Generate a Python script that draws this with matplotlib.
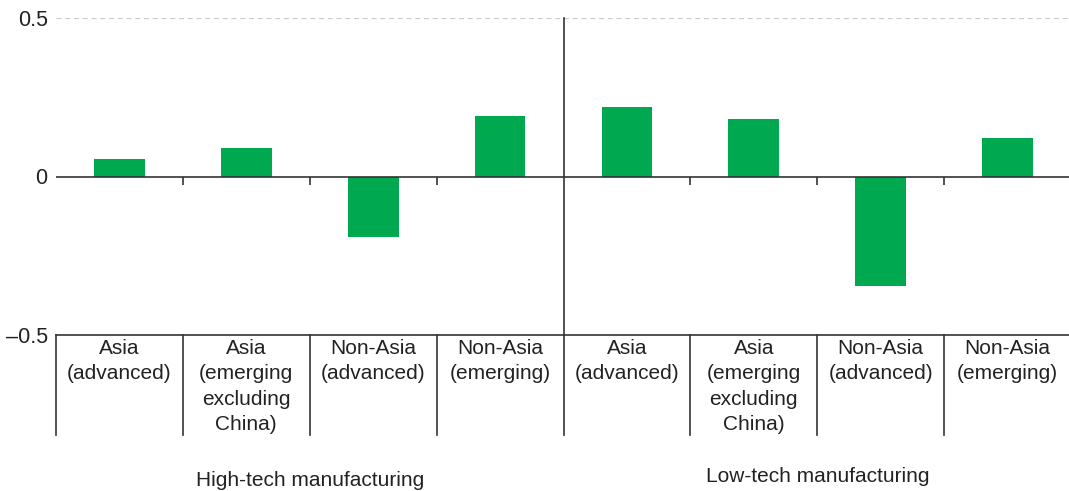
import matplotlib.pyplot as plt
import numpy as np

plt.rcParams['font.family'] = ['Liberation Sans', 'DejaVu Sans']

# values
categories = ['Asia\n(advanced)', 'Asia\n(emerging\nexcluding\nChina)', 'Non-Asia\n(advanced)', 'Non-Asia\n(emerging)',
              'Asia\n(advanced)', 'Asia\n(emerging\nexcluding\nChina)', 'Non-Asia\n(advanced)', 'Non-Asia\n(emerging)']
values = [0.055, 0.09, -0.19, 0.19, 0.22, 0.18, -0.345, 0.12]
groups = ['High-tech manufacturing', 'Low-tech manufacturing']

green = '#00a84f'
line_col = '#333333'
txt_col = '#222222'

W, H = 1069, 491
fig = plt.figure(figsize=(W / 100, H / 100), dpi=100)
top_px, bot_px, left_px = 18, 335, 56
ax = fig.add_axes([left_px / W, 1 - bot_px / H, (W - left_px + 2) / W, (bot_px - top_px) / H])

x = np.arange(len(values))
ax.bar(x, values, width=0.4, color=green, zorder=2)

ax.set_xlim(-0.5, 7.5)
ax.set_ylim(-0.5, 0.5)
for s in ax.spines.values():
    s.set_visible(False)
ax.set_xticks([])
ax.set_yticks([0.5, 0, -0.5], ['0.5', '0', '\u20130.5'], fontsize=15.5, color=txt_col)
ax.tick_params(axis='y', length=0, pad=6)

ax.axhline(0.5, color='#cccccc', lw=0.9, dashes=(4, 3), zorder=1)
ax.axhline(0, color=line_col, lw=1.2, zorder=3)
ax.axhline(-0.5, color=line_col, lw=1.2, zorder=3, clip_on=False)

px = 1.0 / (bot_px - top_px)  # axes fraction per pixel
trans = ax.get_xaxis_transform()
bounds = [0.5, 1.5, 2.5, 4.5, 5.5, 6.5]
ax.vlines(bounds, -8 * px, 0, color=line_col, lw=1.2, zorder=3)

# category box below the axis
for b in [-0.5] + bounds + [3.5]:
    ax.plot([b, b], [0, -100 * px], transform=trans, color=line_col, lw=1.2, clip_on=False)
ax.plot([3.5, 3.5], [0, 1], transform=trans, color=line_col, lw=1.2, clip_on=False)

for xi, lab in zip(x, categories):
    ax.text(xi, -4 * px, lab, transform=trans, ha='center', va='top', fontsize=15,
            color=txt_col, linespacing=1.42)

ax.text(1.5, -(480 - bot_px) * px, groups[0], transform=trans, ha='center', va='center',
        fontsize=15, color=txt_col)
ax.text(5.5, -(476 - bot_px) * px, groups[1], transform=trans, ha='center', va='center',
        fontsize=15, color=txt_col)

fig.savefig('out.png', dpi=100)
